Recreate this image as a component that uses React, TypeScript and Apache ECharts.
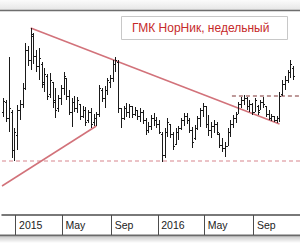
import React, { useEffect, useRef } from "react";
import * as echarts from "echarts";

// Weekly categories starting Monday 2014-12-01
const START_UTC = Date.UTC(2014, 11, 1);
const WEEK_MS = 7 * 24 * 3600 * 1000;
const categories: string[] = Array.from({ length: 109 }, (_, i) =>
  new Date(START_UTC + i * WEEK_MS).toISOString().slice(0, 10)
);
const monthNames = ["Jan", "Feb", "Mar", "Apr", "May", "Jun", "Jul", "Aug", "Sep", "Oct", "Nov", "Dec"];
const labelMonths = [0, 4, 8];

const opens = [
  10120, 10520, 9880, 10120, 8600, 9200, 10200, 10440, 11080, 12600,
  12200, 13160, 12360, 11960, 12040, 11320, 11560, 10840, 11320, 10600,
  10280, 10680, 11080, 11480, 10760, 10120, 10520, 10280, 10440, 9960,
  10200, 9800, 10120, 9720, 9880, 10040, 11000, 10680, 11000, 11320,
  11480, 12040, 12120, 10280, 9880, 10280, 10120, 10360, 10040, 10200,
  9960, 10120, 9800, 9400, 9560, 9880, 9800, 9640, 9240, 8400,
  9320, 9640, 9240, 8840, 9320, 9480, 9800, 9960, 9800, 9400,
  9080, 9480, 9880, 10200, 10360, 9640, 9400, 9560, 9640, 9240,
  8800, 8680, 8760, 9320, 9640, 9880, 10040, 10440, 10600, 10680,
  10360, 10440, 10120, 10360, 10200, 10520, 10360, 10040, 9880, 9960,
  9800, 9880, 10840, 11240, 11400, 11720, 11880,
];
const highs = [
  10680, 10600, 12320, 10200, 9480, 10400, 10600, 11280, 12880, 12760,
  13480, 13280, 12600, 12680, 12120, 11880, 11640, 11680, 11320, 11080,
  10800, 11200, 11720, 11480, 11000, 10680, 10760, 10720, 10440, 10360,
  10320, 10200, 10280, 10040, 10120, 11200, 11080, 11160, 11480, 11600,
  12200, 12320, 12200, 10280, 10360, 10480, 10440, 10360, 10320, 10200,
  10280, 10200, 9880, 9720, 10000, 10080, 9920, 9800, 9320, 9480,
  9880, 9640, 9320, 9480, 9560, 9880, 10080, 10080, 9880, 9520,
  9600, 9960, 10280, 10480, 10360, 10000, 9720, 9800, 9720, 9280,
  9080, 8920, 9480, 9800, 10000, 10120, 10520, 10720, 10800, 10720,
  10600, 10480, 10680, 10400, 10600, 10720, 10360, 10200, 10040, 9960,
  9960, 10920, 11400, 11560, 11800, 12200, 11960,
];
const lows = [
  9920, 9720, 9320, 8280, 8160, 8600, 9800, 10280, 11000, 11960,
  11800, 12040, 11720, 11400, 11080, 10920, 10600, 10680, 10280, 9880,
  10120, 10400, 10800, 10600, 10000, 9520, 10120, 10080, 9800, 9880,
  9560, 9680, 9480, 9560, 9560, 9920, 10520, 10280, 10800, 11080,
  11320, 11720, 10080, 9480, 9800, 9920, 9880, 9880, 9960, 9800,
  9720, 9640, 9200, 9280, 9400, 9560, 9480, 9240, 8120, 8280,
  9120, 9080, 8600, 8800, 9000, 9400, 9560, 9640, 9280, 8680,
  9000, 9400, 9520, 9920, 9480, 9160, 9080, 9280, 9200, 8680,
  8520, 8320, 8760, 9120, 9480, 9680, 10040, 10280, 10400, 10200,
  10120, 10000, 10120, 10000, 10200, 10280, 9920, 9800, 9760, 9720,
  9680, 9720, 10760, 11000, 11280, 11480, 11400,
];
const closes = [
  10560, 9880, 10280, 8600, 9320, 10200, 10440, 11080, 12600, 12200,
  13240, 12360, 11960, 12280, 11240, 11640, 10760, 11400, 10520, 10200,
  10680, 11080, 11560, 10760, 10120, 10520, 10280, 10600, 9960, 10200,
  9720, 10120, 9640, 9880, 10040, 11080, 10680, 11000, 11400, 11480,
  12040, 12200, 10280, 9880, 10280, 10120, 10360, 10040, 10200, 9960,
  10120, 9800, 9400, 9560, 9880, 9800, 9640, 9320, 8400, 9320,
  9720, 9240, 8760, 9320, 9480, 9800, 9960, 9800, 9400, 8920,
  9480, 9880, 10200, 10360, 9640, 9400, 9560, 9640, 9320, 8800,
  8680, 8760, 9320, 9640, 9880, 10040, 10440, 10600, 10680, 10360,
  10440, 10120, 10600, 10120, 10520, 10440, 10040, 9880, 9960, 9800,
  9880, 10760, 11240, 11400, 11720, 12040, 11560,
];

// Trend lines: [week position, price]
const trendDown = [[10, 13480], [101, 9640]];
const trendUp = [[-0.5, 7160], [34, 9560]];
const supportLevel = [[-0.5, 8160], [108.5, 8160]];
const resistanceLevel = [[83.6, 10760], [108.5, 10760]];
const titleText = "ГМК НорНик, недельный";

const monthOf = (s: string) => Number(s.slice(5, 7)) - 1;
const isBoundary = (i: number) =>
  i > 0 &&
  monthOf(categories[i]) !== monthOf(categories[i - 1]) &&
  labelMonths.includes(monthOf(categories[i]));

export default function App() {
  const ref = useRef<HTMLDivElement>(null);
  useEffect(() => {
    if (!ref.current) return;
    const chart = echarts.init(ref.current, undefined, { renderer: "svg" });
    const ohlc = highs.map((h, i) => [i, opens[i], h, lows[i], closes[i]]);
    const trendStyle = { color: "#d2727a", width: 1.5 };
    const option: any = {
      animation: false,
      backgroundColor: "#ffffff",
      grid: { left: 2, right: 0, top: 11, bottom: 35, containLabel: false, outerBoundsMode: "none" },
      xAxis: [
        {
          type: "category",
          data: categories,
          boundaryGap: true,
          axisLine: { show: true, lineStyle: { color: "#4d4d4d", width: 1.5 } },
          axisTick: {
            show: true,
            interval: (i: number) => isBoundary(i),
            length: 20,
            lineStyle: { color: "#4d4d4d", width: 1 },
          },
          axisLabel: {
            show: true,
            interval: (i: number) => isBoundary(i),
            formatter: (v: string) => {
              const m = monthOf(v);
              return m === 0 ? v.slice(0, 4) : monthNames[m];
            },
            align: "left",
            padding: [0, 0, 0, 2],
            margin: 4,
            color: "#222",
            fontSize: 10.5,
            fontFamily: "'Liberation Sans', Arial, sans-serif",
          },
          splitLine: { show: false },
        },
        { type: "value", min: -0.5, max: 108.5, show: false },
      ],
      yAxis: { type: "value", min: 6000, max: 14160, show: false, splitLine: { show: false } },
      series: [
        {
          type: "line",
          xAxisIndex: 1,
          data: supportLevel,
          symbol: "none",
          lineStyle: { color: "#d8868e", width: 1.2, type: [4, 3] },
          z: 1,
        },
        {
          type: "line",
          xAxisIndex: 1,
          data: resistanceLevel,
          symbol: "none",
          lineStyle: { color: "#7e3434", width: 1.2, type: [4, 3] },
          z: 1,
        },
        {
          type: "line",
          xAxisIndex: 1,
          data: trendDown,
          symbol: "none",
          lineStyle: trendStyle,
          z: 1,
        },
        {
          type: "line",
          xAxisIndex: 1,
          data: trendUp,
          symbol: "none",
          lineStyle: trendStyle,
          z: 1,
        },
        {
          type: "custom",
          xAxisIndex: 0,
          data: ohlc,
          encode: { x: 0, y: [1, 2, 3, 4] },
          z: 3,
          renderItem: (params: any, api: any) => {
            const idx = api.value(0);
            const pO = api.coord([idx, api.value(1)]);
            const pH = api.coord([idx, api.value(2)]);
            const pL = api.coord([idx, api.value(3)]);
            const pC = api.coord([idx, api.value(4)]);
            const x = Math.round(pH[0]) + 0.5;
            const yo = Math.round(pO[1]) + 0.5;
            const yc = Math.round(pC[1]) + 0.5;
            const style = { stroke: "#1a1a1a", lineWidth: 1 };
            return {
              type: "group",
              children: [
                { type: "line", shape: { x1: x, y1: Math.round(pH[1]), x2: x, y2: Math.round(pL[1]) }, style },
                { type: "line", shape: { x1: x - 1.5, y1: yo, x2: x - 0.5, y2: yo }, style },
                { type: "line", shape: { x1: x + 0.5, y1: yc, x2: x + 1.5, y2: yc }, style },
              ],
            };
          },
        },
      ],
      graphic: [
        {
          type: "rect",
          shape: { x: 0, y: 0, width: 300, height: 10 },
          style: {
            fill: new echarts.graphic.LinearGradient(0, 0, 0, 1, [
              { offset: 0, color: "#fbfbfb" },
              { offset: 1, color: "#e6e6e6" },
            ]),
          },
          silent: true,
        },
        {
          type: "line",
          shape: { x1: 0, y1: 10.5, x2: 300, y2: 10.5 },
          style: { stroke: "#6e6e6e", lineWidth: 1.5 },
          silent: true,
        },
        {
          type: "line",
          shape: { x1: 0, y1: 235.5, x2: 300, y2: 235.5 },
          style: { stroke: "#6a6a6a", lineWidth: 2 },
          silent: true,
        },
        {
          type: "rect",
          shape: { x: 0, y: 237, width: 300, height: 6 },
          style: {
            fill: new echarts.graphic.LinearGradient(0, 0, 0, 1, [
              { offset: 0, color: "#cfcfcf" },
              { offset: 1, color: "#ffffff" },
            ]),
          },
          silent: true,
        },
        {
          type: "rect",
          shape: { x: 121.5, y: 16.5, width: 166, height: 23 },
          style: { fill: "#ffffff", stroke: "#c8c8c8", lineWidth: 1 },
          z: 100,
          silent: true,
        },
        {
          type: "text",
          x: 132,
          y: 28,
          style: {
            text: titleText,
            fill: "#c62a2a",
            fontSize: 12,
            fontFamily: "'Liberation Sans', Arial, sans-serif",
            verticalAlign: "middle",
          },
          z: 101,
          silent: true,
        },
      ],
    };
    chart.setOption(option);
    return () => chart.dispose();
  }, []);
  return (
    <div
      ref={ref}
      style={{ position: "fixed", left: 0, top: 0, width: 300, height: 250, background: "#fff" }}
    />
  );
}
